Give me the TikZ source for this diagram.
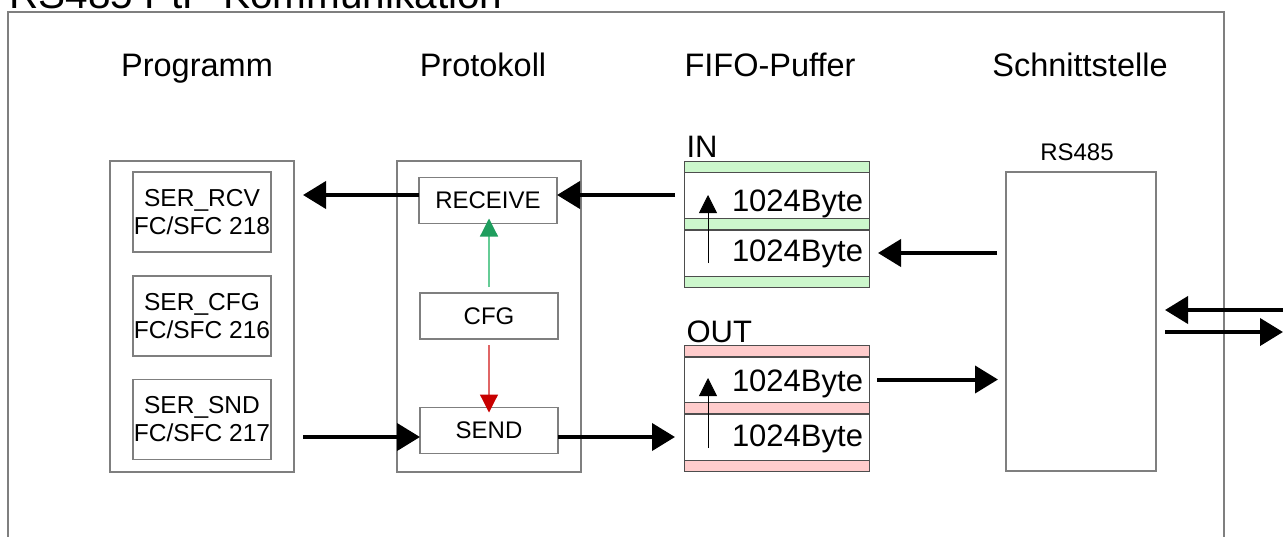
\documentclass[tikz,border=0pt]{standalone}
\usepackage{fontspec}
\setmainfont{Liberation Sans}
\usetikzlibrary{arrows.meta}

\definecolor{boxgray}{HTML}{7F7F7F}
\definecolor{cellgray}{HTML}{4D4D4D}
\definecolor{ingreen}{HTML}{CCF7CC}
\definecolor{outred}{HTML}{FFCCCC}
\definecolor{cfgdark}{HTML}{1F9E5E}
\definecolor{cfglight}{HTML}{66CC96}
\definecolor{snddark}{HTML}{C80000}
\definecolor{sndlight}{HTML}{E06666}

\begin{document}
\begin{tikzpicture}[x=1pt,y=-1pt,
    head/.style={font=\fontsize{32.5}{39}\selectfont,anchor=base},
    frame/.style={draw=boxgray,line width=1.2pt,inner sep=0pt,outer sep=0pt},
    fcbox/.style={frame,minimum width=138pt,minimum height=80pt,align=center,font=\fontsize{24.5}{28}\selectfont},
    pbox/.style={frame,minimum width=138pt,minimum height=46pt,font=\fontsize{24}{28}\selectfont},
    cell/.style={draw=cellgray,line width=0.8pt,inner sep=0pt,outer sep=0pt,minimum width=185pt,minimum height=46pt,
      text width=173pt,align=right,font=\fontsize{31}{36}\selectfont,text height=#1,text depth=0pt},
    bigarrow/.style={line width=4pt,-{Triangle[length=23pt,width=27pt]}},
    fifoarrow/.style={line width=0.8pt,-{Triangle[length=18pt,width=18pt]}}
  ]
    \useasboundingbox (0,0) rectangle (1283,536);

    % Titel und Rahmen
    \node[anchor=base west,font=\fontsize{40.5}{48}\selectfont] (title) at (6,8) {RS485 PtP-Kommunikation};
    \draw[boxgray,line width=1.2pt] (8,560) -- (8,12) -- (1224,12) -- (1224,560);

    \node[head] (hprog) at (197,76) {Programm};
    \node[head] (hproto) at (483,76) {Protokoll};
    \node[head] (hfifo) at (770,76) {FIFO-Puffer};
    \node[head] (hif) at (1080,76) {Schnittstelle};

    % Programm
    \node[frame,minimum width=184pt,minimum height=311pt] (prog) at (202,316.5) {};
    \node[fcbox] (rcv) at (202,212) {SER\_RCV\\FC/SFC 218};
    \node[fcbox] (cfg) at (202,316) {SER\_CFG\\FC/SFC 216};
    \node[fcbox] (snd) at (202,419.5) {SER\_SND\\FC/SFC 217};

    % Protokoll
    \node[frame,minimum width=184pt,minimum height=311pt] (proto) at (489,316.5) {};
    \node[pbox] (receive) at (488,200.5) {RECEIVE};
    \node[pbox] (config) at (489,316) {CFG};
    \node[pbox] (send) at (489,430.5) {SEND};

    % FIFO-Puffer
    \node[anchor=base west,font=\fontsize{31}{36}\selectfont] (in) at (683,157) {IN};
    \foreach \y in {161,218,276}
      \filldraw[fill=ingreen,draw=cellgray,line width=0.8pt] (684,\y) rectangle ++(185,11.5);
    \node[cell=33pt] (inA) at (776.5,195) {1024Byte};
    \node[cell=16pt] (inB) at (776.5,253) {1024Byte};

    \node[anchor=base west,font=\fontsize{31}{36}\selectfont] (out) at (683,342) {OUT};
    \foreach \y in {345,402,460}
      \filldraw[fill=outred,draw=cellgray,line width=0.8pt] (684,\y) rectangle ++(185,11.5);
    \node[cell=24pt,minimum height=45pt] (outA) at (776.5,379.5) {1024Byte};
    \node[cell=19pt] (outB) at (776.5,437) {1024Byte};

    \draw[fifoarrow] ([xshift=24pt,yshift=13pt]inB.south west) -- ([xshift=24pt,yshift=-23pt]inA.north west);
    \draw[fifoarrow] ([xshift=24pt,yshift=12pt]outB.south west) -- ([xshift=24pt,yshift=-21pt]outA.north west);

    % Schnittstelle
    \node[frame,minimum width=150pt,minimum height=299pt] (rs) at (1081,321.5) {};
    \node[font=\fontsize{24}{28}\selectfont] (rslabel) at (1077,152.5) {RS485};
    \coordinate (busin) at (1300,310);
    \coordinate (busout) at (1283,332);

    % Verbindungen
    \draw[bigarrow,shorten >=32pt] (receive.west |- inA.west) -- (rcv.east |- inA.west);
    \draw[bigarrow,shorten <=9pt] (inA.west) -- (receive.east |- inA.west);
    \draw[bigarrow,shorten <=9pt,shorten >=9pt] (rs.west |- inB.east) -- (inB.east);
    \draw[bigarrow,shorten <=8pt,shorten >=8pt] (outA.east) -- (rs.west |- outA.east);
    \draw[bigarrow,shorten <=32pt] (snd.east |- outB.west) -- (send.west |- outB.west);
    \draw[bigarrow,shorten >=9pt] (send.east |- outB.west) -- (outB.west);
    \draw[bigarrow,shorten >=9pt] (busin) -- (rs.east |- busin);
    \draw[bigarrow,shorten <=9pt] (rs.east |- busout) -- (busout);

    \draw[cfglight,line width=1.2pt,-{Triangle[length=18pt,width=18pt,color=cfgdark]},shorten <=6pt,shorten >=-5pt]
      (config.north) -- (config.north |- receive.south);
    \draw[sndlight,line width=1.2pt,-{Triangle[length=18pt,width=18pt,color=snddark]},shorten <=6pt,shorten >=-5pt]
      (config.south) -- (config.south |- send.north);
\end{tikzpicture}
\end{document}
